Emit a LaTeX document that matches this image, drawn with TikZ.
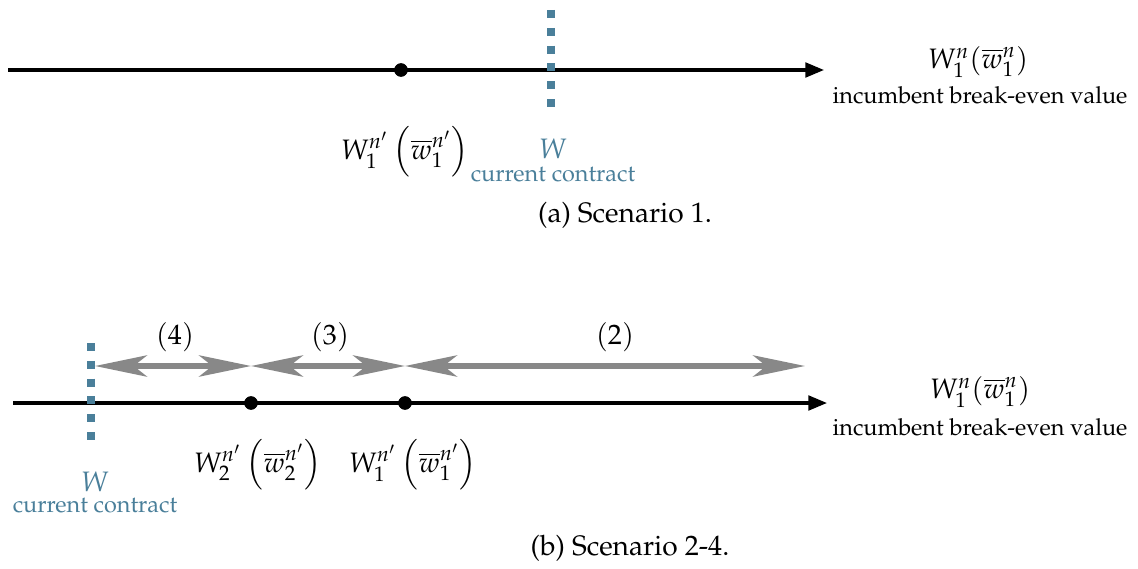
\documentclass[tikz,border=0pt]{standalone}
\usepackage[T1]{fontenc}
\usepackage{mathpazo}
\usepackage{xcolor}
\usepackage{tikz}
\usetikzlibrary{arrows.meta}

\definecolor{contractblue}{HTML}{4A7F9A}
\definecolor{rangegray}{HTML}{888888}

\tikzset{
  numline/.style={line width=1.3pt, -{Triangle[length=0.28cm,width=0.22cm]}},
  dot/.style={circle, fill=black, inner sep=0pt, minimum size=0.2cm},
  contract/.style={contractblue, line width=0.12cm, dash pattern=on 0.12cm off 0.147cm},
  spanarrow/.style={rangegray, line width=2.2pt, <->, >={Stealth[length=0.78cm,width=0.32cm,inset=0.2cm]}},
  lab/.style={font=\large, inner sep=1pt},
  note/.style={font=\normalsize, inner sep=0pt}
}

\begin{document}
\begin{tikzpicture}[x=0.015cm, y=-0.015cm]
\useasboundingbox (0,0) rectangle (1138,568);

% (a) scenario 1
\coordinate (a0) at (8,70);
\coordinate (a9) at (824,70);
\coordinate (atop) at (551,10);
\coordinate (abot) at (551,107);
\node[dot] (a1) at (401,70) {};
\node[lab] (a1lab) at (405,152) {$W_1^{n'}\left(\overline{w}_1^{n'}\right)$};
\node[lab, contractblue] (aw) at (553,149) {$W$};
\node[note, text=contractblue] (acur) at (553,175) {current contract};
\node[lab] (ainc) at (978,62) {$W_1^n(\overline{w}_1^n)$};
\node[note] (aincl) at (980,95) {incumbent break-even value};
\node[lab] (acap) at (625,215) {(a) Scenario 1.};

\draw[numline] (a0) -- (a9);
\draw[contract] (atop) -- (abot);
\node[dot] at (a1) {};

% (b) scenario 2-4
\coordinate (b0) at (13,403);
\coordinate (b9) at (827,403);
\coordinate (btop) at (91,343);
\coordinate (bbot) at (91,440);
\node[dot] (b2) at (251,403) {};
\node[dot] (b1) at (405,403) {};
\coordinate (r4) at (95,366);
\coordinate (r3) at (251,366);
\coordinate (r2) at (405,366);
\coordinate (r1) at (805,366);
\node[lab] (n4) at (175,337) {$(4)$};
\node[lab] (n3) at (330,337) {$(3)$};
\node[lab] (n2) at (615,337) {$(2)$};
\node[lab] (b2lab) at (258,465) {$W_2^{n'}\left(\overline{w}_2^{n'}\right)$};
\node[lab] (b1lab) at (413,465) {$W_1^{n'}\left(\overline{w}_1^{n'}\right)$};
\node[lab, contractblue] (bw) at (95,482) {$W$};
\node[note, text=contractblue] (bcur) at (95,506) {current contract};
\node[lab] (binc) at (980,392) {$W_1^n(\overline{w}_1^n)$};
\node[note] (bincl) at (980,427) {incumbent break-even value};
\node[lab] (bcap) at (630,548) {(b) Scenario 2-4.};

\draw[numline] (b0) -- (b9);
\draw[contract] (btop) -- (bbot);
\draw[spanarrow] (r4) -- (r3);
\draw[spanarrow] (r3) -- (r2);
\draw[spanarrow] (r2) -- (r1);
\node[dot] at (b2) {};
\node[dot] at (b1) {};
\end{tikzpicture}
\end{document}
